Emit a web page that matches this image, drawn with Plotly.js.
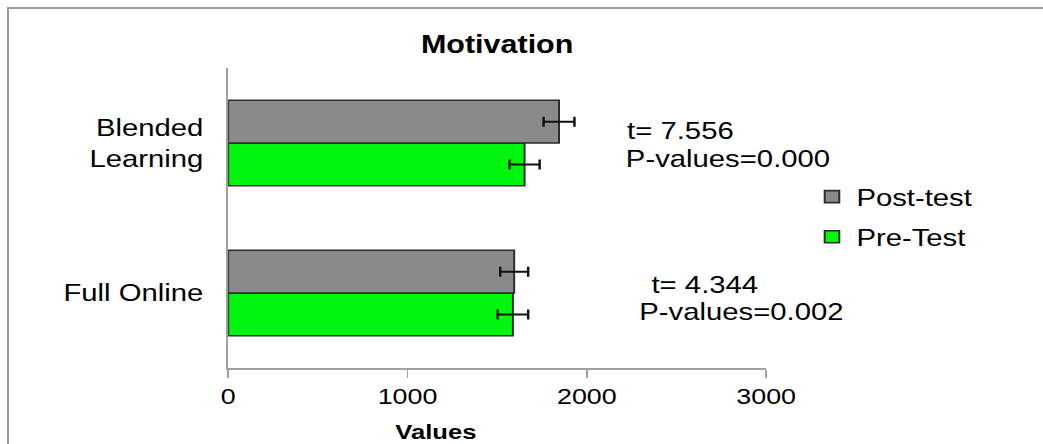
<!DOCTYPE html>
<html>
<head>
<meta charset="utf-8">
<script src="https://cdn.plot.ly/plotly-3.0.1.min.js"></script>
<style>
  html, body { margin: 0; padding: 0; background: #fff; overflow: hidden; }
  #wrap { position: relative; width: 1043px; height: 444px; overflow: hidden; }
  /* the reference picture is a horizontally stretched chart: reproduce that stretch */
  #chart { width: 855px; height: 444px; transform: scaleX(1.22); transform-origin: 0 0; }
  #frame { position: absolute; left: 7px; top: 7px; right: -10px; bottom: -10px;
           border-top: 2px solid #9a9a9a; border-left: 2px solid #9a9a9a; pointer-events: none; }
</style>
</head>
<body>
<div id="wrap">
  <div id="chart"></div>
  <div id="frame"></div>
</div>
<script>
// Data
const categories = ["Full Online", "Blended<br>Learning"];
const preTest = [1588, 1653];
const preTestErr = [85, 84];
const postTest = [1595, 1845];
const postTestErr = [78, 86];
const seriesNames = ["Pre-Test", "Post-test"];
const tStats = ["t= 4.344", "t= 7.556"];
const pValues = ["P-values=0.002", "P-values=0.000"];
const xTicks = [0, 1000, 2000, 3000];
const xTitle = "Values";
const chartTitle = "Motivation";

const FONT = "Liberation Sans, Arial, sans-serif";

const traces = [
  {
    type: "bar", orientation: "h", name: seriesNames[0], legendgroup: "pre", legendrank: 2,
    y: categories, x: preTest,
    marker: { color: "#00f50f", line: { color: "#2b2b2b", width: 1.6 } },
    error_x: { type: "data", array: preTestErr, visible: true, color: "#111", thickness: 2, width: 5 }
  },
  {
    type: "bar", orientation: "h", name: seriesNames[1], legendgroup: "post", legendrank: 1,
    y: categories, x: postTest,
    marker: { color: "#8a8a8a", line: { color: "#2b2b2b", width: 1.6 } },
    error_x: { type: "data", array: postTestErr, visible: true, color: "#111", thickness: 2, width: 5 }
  }
];

const annFont = { family: FONT, size: 24, color: "#000" };
const annotations = [
  { text: tStats[1], x: 0.736, y: 0.793 },
  { text: pValues[1], x: 0.734, y: 0.70 },
  { text: tStats[0], x: 0.782, y: 0.28 },
  { text: pValues[0], x: 0.76, y: 0.187 }
].map(a => Object.assign({
  xref: "paper", yref: "paper", xanchor: "left", yanchor: "middle",
  showarrow: false, font: annFont
}, a));

annotations.push({
  text: "<b>" + xTitle + "</b>", xref: "paper", yref: "paper",
  x: 0.387, y: -0.213, xanchor: "center", yanchor: "middle", showarrow: false,
  font: { family: FONT, size: 21, color: "#000" }
});

const layout = {
  width: 855, height: 444,
  margin: { l: 187, r: 227, t: 68, b: 76 },
  paper_bgcolor: "#fff", plot_bgcolor: "#fff",
  font: { family: FONT, size: 23, color: "#000" },
  title: { text: "<b>" + chartTitle + "</b>", x: 0.5, xref: "paper", xanchor: "center",
           y: 0.9, yref: "container", yanchor: "middle",
           font: { family: FONT, size: 25, color: "#000" } },
  barmode: "group", bargap: 0.43, bargroupgap: 0,
  xaxis: {
    range: [0, 3000], tickvals: xTicks, ticktext: xTicks.map(String),
    showgrid: false, zeroline: false, showline: true, linecolor: "#a0a0a0", linewidth: 1.5,
    ticks: "outside", ticklen: 8, tickwidth: 1.5, tickcolor: "#a0a0a0",
    tickfont: { family: FONT, size: 22, color: "#000" },
    fixedrange: true
  },
  yaxis: {
    type: "category", categoryorder: "array", categoryarray: categories,
    showgrid: false, zeroline: false, showline: true, linecolor: "#a0a0a0", linewidth: 1.5,
    ticks: "", ticklabelstandoff: 14,
    tickfont: { family: FONT, size: 24, color: "#000" },
    fixedrange: true
  },
  showlegend: true,
  legend: {
    x: 1.077, y: 0.645, xanchor: "left", yanchor: "top",
    traceorder: "grouped", font: { family: FONT, size: 24, color: "#000" },
    bgcolor: "rgba(0,0,0,0)", itemwidth: 30, tracegroupgap: 6
  },
  annotations: annotations
};

Plotly.newPlot("chart", traces, layout, { displayModeBar: false, staticPlot: true });
</script>
</body>
</html>
